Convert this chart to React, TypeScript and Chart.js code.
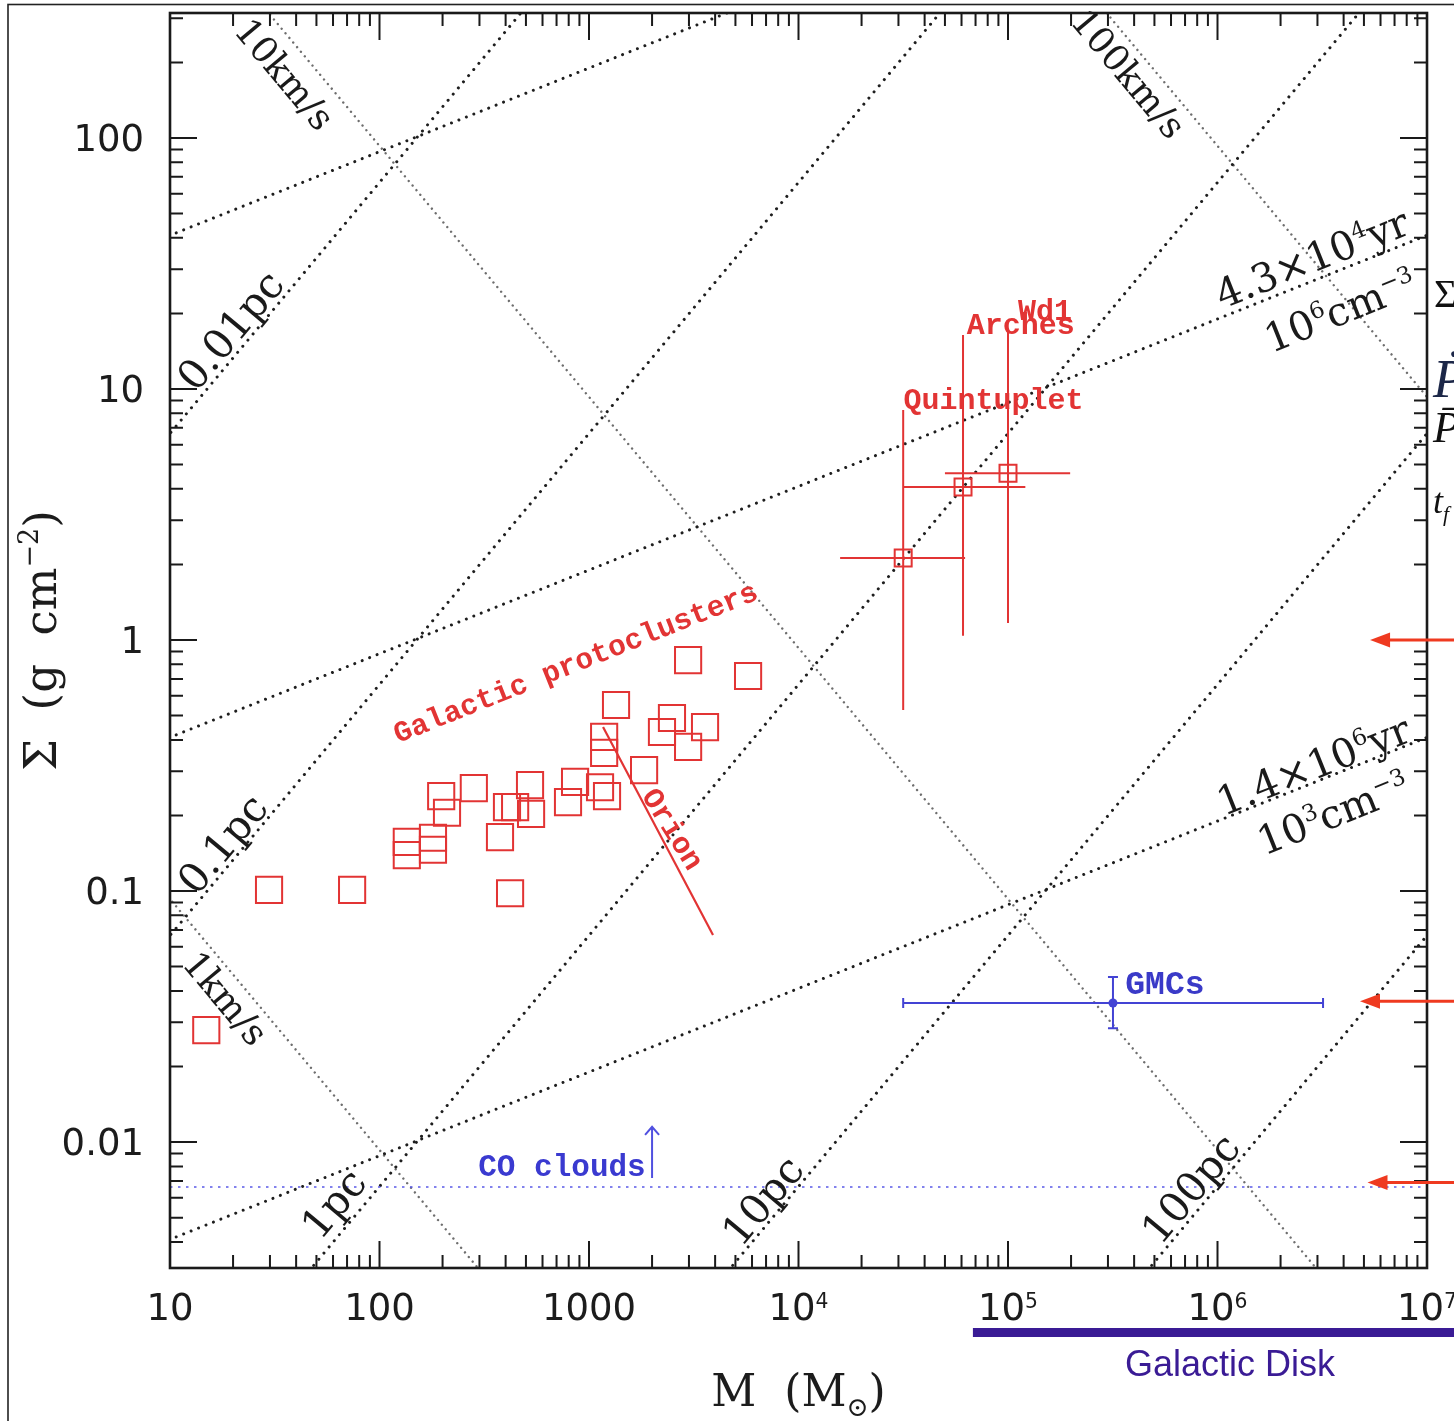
import React, { useEffect, useRef } from 'react';
import { Chart, registerables } from 'chart.js';

Chart.register(...registerables);

const CANVAS_W = 1454;
const CANVAS_H = 1421;

// ---------- axes ----------
const xRange = [10, 1e7];
const yRange = [0.00315, 314.6];
const xMajorTicks = [10, 100, 1000, 1e4, 1e5, 1e6, 1e7];
const xTickLabels = ['10', '100', '1000', '10^{4}', '10^{5}', '10^{6}', '10^{7}'];
const yMajorTicks = [0.01, 0.1, 1, 10, 100];
const yTickLabels = ['0.01', '0.1', '1', '10', '100'];
const xTitle = 'M  (M_{⊙})';
const yTitle = 'Σ  (g  cm^{−2})';

// ---------- Galactic protoclusters ----------
const protoMass = [14.9, 29.7, 74, 135, 135, 180, 180, 197, 210, 282, 376, 406, 444, 529, 523, 420, 794, 858, 1129, 1219, 1181, 1181, 1346, 1832, 2230, 2489, 3580, 2972, 2972, 5745];
const protoSigma = [0.0279, 0.101, 0.101, 0.157, 0.139, 0.163, 0.146, 0.239, 0.205, 0.257, 0.164, 0.216, 0.216, 0.203, 0.264, 0.098, 0.226, 0.272, 0.259, 0.239, 0.411, 0.355, 0.551, 0.303, 0.43, 0.489, 0.45, 0.375, 0.832, 0.719];

// ---------- massive clusters ----------
const clusterNames = ['Quintuplet', 'Arches', 'Wd1'];
const clusterMass = [3.16e4, 6.1e4, 1.0e5];
const clusterMassLo = [1.58e4, 3.16e4, 5.0e4];
const clusterMassHi = [6.24e4, 1.21e5, 1.98e5];
const clusterSigma = [2.12, 4.07, 4.62];
const clusterSigmaLo = [0.526, 1.04, 1.17];
const clusterSigmaHi = [8.24, 16.4, 17.2];
const clusterLabelMass = [8.53e4, 1.15e5, 1.5e5];
const clusterLabelSigma = [9.2, 18.2, 20.8];

// ---------- GMCs ----------
const gmcMass = [3.17e5];
const gmcMassLo = [3.16e4];
const gmcMassHi = [3.19e6];
const gmcSigma = [0.0358];
const gmcSigmaLo = [0.0284];
const gmcSigmaHi = [0.0454];

// ---------- CO clouds ----------
const coSigma = [0.00662];
const coArrowMass = [2000];
const coArrowSigma = [0.0072, 0.0115];

// ---------- Orion ----------
const orionMass = [1167, 3908];
const orionSigma = [0.45, 0.0668];

// ---------- reference lines ----------
const radiusLabels = ['0.01pc', '0.1pc', '1pc', '10pc', '100pc'];
const radiusLineMass = [[1, 1e4], [1, 1e5], [10, 1e7], [1e3, 1e8], [1e5, 1e8]];
const radiusLineSigma = [[0.665, 6650], [0.00665, 665], [6.65e-4, 665], [6.65e-4, 66.5], [6.65e-4, 0.665]];
const radiusLabelMass = [19.3, 17.7, 60, 6700, 7.4e5];
const radiusLabelSigma = [17.2, 0.155, 0.00571, 0.00587, 0.00656];

const velocityLabels = ['1km/s', '10km/s', '100km/s'];
const velocityLineMass = [[1, 1e4], [10, 1e7], [1e4, 1e8]];
const velocityLineSigma = [[0.93, 9.3e-5], [930, 9.3e-4], [9300, 0.93]];
const velocityLabelMass = [18.5, 35.4, 3.78e5];
const velocityLabelSigma = [0.0375, 180, 181];

const densityLineMass = [[1, 1e4], [1, 1e8], [1, 1e8]];
const densityLineSigma = [[19.0, 409], [0.19, 88.2], [0.0019, 0.882]];
const densityLabels = ['4.3×10^{4}yr', '10^{6}cm^{−3}', '1.4×10^{6}yr', '10^{3}cm^{−3}'];
const densityLabelMass = [2.82e6, 3.85e6, 2.86e6, 3.56e6];
const densityLabelSigma = [33.3, 20.6, 0.318, 0.205];

// ---------- other annotations ----------
const protoLabelMass = [857];
const protoLabelSigma = [0.824];
const orionLabelMass = [2545];
const orionLabelSigma = [0.178];
const gmcLabelMass = [5.61e5];
const gmcLabelSigma = [0.0434];
const coLabelMass = [743];
const coLabelSigma = [0.0081];
const rightArrowSigma = [1.0, 0.0364, 0.0069];
const rightArrowTipMass = [5.35e6, 4.79e6, 5.2e6];
const diskStartMass = [6.8e4];

const RED = '#e23434';
const BLUE = '#4343d4';

type RichOpts = {
  size: number;
  family: string;
  weight?: string;
  style?: string;
  color: string;
  align?: 'left' | 'center' | 'right';
  angle?: number;
  supScale?: number;
  supRise?: number;
};

function parseRich(s: string) {
  const out: { t: string; mode: number }[] = [];
  const re = /\^\{([^}]*)\}|_\{([^}]*)\}|([^^_]+)/g;
  let m: RegExpExecArray | null;
  while ((m = re.exec(s)) !== null) {
    if (m[1] !== undefined) out.push({ t: m[1], mode: 1 });
    else if (m[2] !== undefined) out.push({ t: m[2], mode: 2 });
    else out.push({ t: m[3], mode: 0 });
  }
  return out;
}

function drawRich(ctx: CanvasRenderingContext2D, s: string, x: number, y: number, o: RichOpts) {
  const segs = parseRich(s);
  const sc = o.supScale ?? 0.6;
  const rise = o.supRise ?? 0.4;
  const font = (mode: number) =>
    `${o.style || 'normal'} ${o.weight || 'normal'} ${mode ? o.size * sc : o.size}px ${o.family}`;
  const widths = segs.map((g) => {
    ctx.font = font(g.mode);
    return ctx.measureText(g.t).width;
  });
  const total = widths.reduce((a, b) => a + b, 0);
  ctx.save();
  ctx.translate(x, y);
  ctx.rotate(o.angle || 0);
  ctx.fillStyle = o.color;
  ctx.textBaseline = 'alphabetic';
  ctx.textAlign = 'left';
  let cx = o.align === 'left' ? 0 : o.align === 'right' ? -total : -total / 2;
  const base = o.size * 0.36;
  segs.forEach((g, i) => {
    ctx.font = font(g.mode);
    const dy = g.mode === 1 ? -o.size * rise : g.mode === 2 ? o.size * 0.22 : 0;
    ctx.fillText(g.t, cx, base + dy);
    cx += widths[i];
  });
  ctx.restore();
}

function pts(ms: number[], ss: number[]) {
  return ms.map((m, i) => ({ x: m, y: ss[i] }));
}

const overlayPlugin = {
  id: 'overlay',
  afterDatasetsDraw(chart: any) {
    const { ctx } = chart;
    const xs = chart.scales.x;
    const ys = chart.scales.y;
    ctx.save();
    // cluster error bars
    ctx.strokeStyle = RED;
    ctx.lineWidth = 2;
    ctx.beginPath();
    clusterMass.forEach((m, i) => {
      const px = xs.getPixelForValue(m);
      const py = ys.getPixelForValue(clusterSigma[i]);
      ctx.moveTo(xs.getPixelForValue(clusterMassLo[i]), py);
      ctx.lineTo(xs.getPixelForValue(clusterMassHi[i]), py);
      ctx.moveTo(px, ys.getPixelForValue(clusterSigmaLo[i]));
      ctx.lineTo(px, ys.getPixelForValue(clusterSigmaHi[i]));
    });
    ctx.stroke();
    // GMC error bars with caps
    ctx.strokeStyle = BLUE;
    ctx.lineWidth = 2;
    ctx.beginPath();
    gmcMass.forEach((m, i) => {
      const px = xs.getPixelForValue(m);
      const py = ys.getPixelForValue(gmcSigma[i]);
      const x1 = xs.getPixelForValue(gmcMassLo[i]);
      const x2 = xs.getPixelForValue(gmcMassHi[i]);
      const y1 = ys.getPixelForValue(gmcSigmaLo[i]);
      const y2 = ys.getPixelForValue(gmcSigmaHi[i]);
      ctx.moveTo(x1, py); ctx.lineTo(x2, py);
      ctx.moveTo(x1, py - 5); ctx.lineTo(x1, py + 5);
      ctx.moveTo(x2, py - 5); ctx.lineTo(x2, py + 5);
      ctx.moveTo(px, y1); ctx.lineTo(px, y2);
      ctx.moveTo(px - 5, y1); ctx.lineTo(px + 5, y1);
      ctx.moveTo(px - 5, y2); ctx.lineTo(px + 5, y2);
    });
    ctx.stroke();
    // CO clouds arrow
    ctx.strokeStyle = '#5050e0';
    ctx.lineWidth = 2;
    const ax = xs.getPixelForValue(coArrowMass[0]);
    const ay1 = ys.getPixelForValue(coArrowSigma[0]);
    const ay2 = ys.getPixelForValue(coArrowSigma[1]);
    ctx.beginPath();
    ctx.moveTo(ax, ay1); ctx.lineTo(ax, ay2);
    ctx.moveTo(ax - 7, ay2 + 8); ctx.lineTo(ax, ay2); ctx.lineTo(ax + 7, ay2 + 8);
    ctx.stroke();
    ctx.restore();
  },
  afterDraw(chart: any) {
    const { ctx, chartArea: a } = chart;
    const xs = chart.scales.x;
    const ys = chart.scales.y;
    const X = (v: number) => xs.getPixelForValue(v);
    const Y = (v: number) => ys.getPixelForValue(v);
    ctx.save();

    // outer slide frame
    ctx.strokeStyle = '#222';
    ctx.lineWidth = 1.6;
    ctx.strokeRect(8, 4.5, CANVAS_W + 20, CANVAS_H + 20);

    // ticks on all four sides
    ctx.strokeStyle = '#1a1a1a';
    ctx.lineWidth = 2;
    ctx.beginPath();
    for (let e = -4; e <= 8; e++) {
      for (let k = 1; k <= 9; k++) {
        const v = k * Math.pow(10, e);
        const len = k === 1 ? 27 : 13;
        if (v >= xRange[0] * 0.999 && v <= xRange[1] * 1.001) {
          const px = X(v);
          ctx.moveTo(px, a.bottom); ctx.lineTo(px, a.bottom - len);
          ctx.moveTo(px, a.top); ctx.lineTo(px, a.top + len);
        }
        if (v >= yRange[0] && v <= yRange[1]) {
          const py = Y(v);
          ctx.moveTo(a.left, py); ctx.lineTo(a.left + len, py);
          ctx.moveTo(a.right, py); ctx.lineTo(a.right - len, py);
        }
      }
    }
    ctx.stroke();
    ctx.lineWidth = 2.6;
    ctx.strokeRect(a.left, a.top, a.right - a.left, a.bottom - a.top);

    // tick labels
    const tickFont = { size: 37, family: '"DejaVu Sans", Verdana, sans-serif', color: '#1c1c1c', supScale: 0.55, supRise: 0.33 };
    xMajorTicks.forEach((v, i) => drawRich(ctx, xTickLabels[i], X(v), a.bottom + 39, { ...tickFont, align: 'center' }));
    yMajorTicks.forEach((v, i) => drawRich(ctx, yTickLabels[i], a.left - 26, Y(v), { ...tickFont, align: 'right' }));

    // axis titles
    const serif = '"DejaVu Serif", serif';
    drawRich(ctx, xTitle, (a.left + a.right) / 2, a.bottom + 122, { size: 44, family: serif, color: '#1c1c1c', supScale: 0.6 });
    drawRich(ctx, yTitle, 40, (a.top + a.bottom) / 2, { size: 45, family: serif, color: '#1c1c1c', angle: -Math.PI / 2, supScale: 0.6 });

    // angles of reference lines in pixel space
    const dxDec = X(100) - X(10);
    const dyDec = Y(1) - Y(10);
    const radiusAngle = -Math.atan2(dyDec, dxDec);
    const velocityAngle = Math.atan2(dyDec, dxDec);
    const densityAngle = -Math.atan2(dyDec / 3, dxDec);

    radiusLabels.forEach((t, i) =>
      drawRich(ctx, t, X(radiusLabelMass[i]), Y(radiusLabelSigma[i]), { size: 41, family: serif, color: '#1a1a1a', angle: radiusAngle }));
    velocityLabels.forEach((t, i) =>
      drawRich(ctx, t, X(velocityLabelMass[i]), Y(velocityLabelSigma[i]), { size: 36, family: serif, color: '#1a1a1a', angle: velocityAngle }));
    densityLabels.forEach((t, i) =>
      drawRich(ctx, t, X(densityLabelMass[i]), Y(densityLabelSigma[i]), { size: 40, family: serif, color: '#1a1a1a', angle: densityAngle, supScale: 0.58, supRise: 0.38 }));

    // red annotations
    const mono = '"Liberation Mono", "DejaVu Sans Mono", monospace';
    drawRich(ctx, 'Galactic protoclusters', X(protoLabelMass[0]), Y(protoLabelSigma[0]), { size: 29.5, family: mono, weight: 'bold', color: RED, angle: densityAngle });
    const orionAngle = Math.atan2(Y(orionSigma[1]) - Y(orionSigma[0]), X(orionMass[1]) - X(orionMass[0])) - 0.07;
    drawRich(ctx, 'Orion', X(orionLabelMass[0]), Y(orionLabelSigma[0]), { size: 30, family: mono, weight: 'bold', color: RED, angle: orionAngle });
    clusterNames.forEach((t, i) =>
      drawRich(ctx, t, X(clusterLabelMass[i]), Y(clusterLabelSigma[i]), { size: 30, family: mono, weight: 'bold', color: RED }));

    // blue annotations
    drawRich(ctx, 'GMCs', X(gmcLabelMass[0]), Y(gmcLabelSigma[0]), { size: 33, family: mono, weight: 'bold', color: '#3a3ac8' });
    drawRich(ctx, 'CO clouds', X(coLabelMass[0]), Y(coLabelSigma[0]), { size: 31, family: mono, weight: 'bold', color: '#3a3ad0' });

    // right-hand red arrows
    ctx.strokeStyle = '#ef3a20';
    ctx.fillStyle = '#ef3a20';
    ctx.lineWidth = 3;
    rightArrowSigma.forEach((s, i) => {
      const tipX = X(rightArrowTipMass[i]);
      const py = Y(s);
      ctx.beginPath();
      ctx.moveTo(tipX + 14, py);
      ctx.lineTo(CANVAS_W + 5, py);
      ctx.stroke();
      ctx.beginPath();
      ctx.moveTo(tipX, py);
      ctx.lineTo(tipX + 20, py - 7.5);
      ctx.lineTo(tipX + 20, py + 7.5);
      ctx.closePath();
      ctx.fill();
    });

    // galactic disk bar
    const diskX = X(diskStartMass[0]);
    ctx.fillStyle = '#3a1b95';
    ctx.fillRect(diskX, a.bottom + 60, CANVAS_W - diskX + 5, 9);
    drawRich(ctx, 'Galactic Disk', 1230, a.bottom + 95, { size: 36, family: '"Liberation Sans", Arial, sans-serif', color: '#3a1b95' });

    // clipped slide text at the right edge
    const tserif = '"Liberation Serif", "DejaVu Serif", serif';
    drawRich(ctx, 'Σ', a.right + 7, 293, { size: 40, family: tserif, color: '#111', align: 'left' });
    drawRich(ctx, 'Ṗ', a.right + 6, 378, { size: 54, family: tserif, style: 'italic', color: '#1c2748', align: 'left' });
    drawRich(ctx, 'P̄', a.right + 6, 426, { size: 44, family: tserif, style: 'italic', color: '#111', align: 'left' });
    drawRich(ctx, 't_{f}', a.right + 6, 500, { size: 36, family: tserif, style: 'italic', color: '#111', align: 'left' });

    ctx.restore();
  },
};

export default function App() {
  const canvasRef = useRef<HTMLCanvasElement | null>(null);

  useEffect(() => {
    if (!canvasRef.current) return;
    const datasets: any[] = [];

    velocityLineMass.forEach((ms, i) =>
      datasets.push({
        label: velocityLabels[i], data: pts(ms, velocityLineSigma[i]), showLine: true, pointRadius: 0,
        borderColor: '#6e6e6e', borderWidth: 2.4, borderDash: [0.01, 6], borderCapStyle: 'round', order: 10,
      }));
    radiusLineMass.forEach((ms, i) =>
      datasets.push({
        label: radiusLabels[i], data: pts(ms, radiusLineSigma[i]), showLine: true, pointRadius: 0,
        borderColor: '#1e1e1e', borderWidth: 3, borderDash: [0.01, 8], borderCapStyle: 'round', order: 9,
      }));
    densityLineMass.forEach((ms, i) =>
      datasets.push({
        label: 'density ' + i, data: pts(ms, densityLineSigma[i]), showLine: true, pointRadius: 0,
        borderColor: '#1e1e1e', borderWidth: 3, borderDash: [0.01, 8], borderCapStyle: 'round', order: 9,
      }));
    datasets.push({
      label: 'CO clouds', data: pts(xRange, [coSigma[0], coSigma[0]]), showLine: true, pointRadius: 0,
      borderColor: '#5a5ae8', borderWidth: 1.6, borderDash: [2.5, 5.5], order: 8,
    });
    datasets.push({
      label: 'Orion', data: pts(orionMass, orionSigma), showLine: true, pointRadius: 0,
      borderColor: RED, borderWidth: 2.2, order: 7,
    });
    datasets.push({
      label: 'Galactic protoclusters', data: pts(protoMass, protoSigma), showLine: false,
      pointStyle: 'rect', pointRadius: 18.5, pointHoverRadius: 18.5, pointBorderWidth: 2,
      pointBorderColor: RED, pointBackgroundColor: 'rgba(0,0,0,0)', order: 2,
    });
    datasets.push({
      label: 'Massive clusters', data: pts(clusterMass, clusterSigma), showLine: false,
      pointStyle: 'rect', pointRadius: 12, pointHoverRadius: 12, pointBorderWidth: 2,
      pointBorderColor: RED, pointBackgroundColor: 'rgba(0,0,0,0)', order: 2,
    });
    datasets.push({
      label: 'GMCs', data: pts(gmcMass, gmcSigma), showLine: false,
      pointStyle: 'circle', pointRadius: 4.5, pointHoverRadius: 4.5, pointBorderWidth: 0,
      pointBackgroundColor: BLUE, pointBorderColor: BLUE, order: 1,
    });

    const chart = new Chart(canvasRef.current, {
      type: 'scatter',
      data: { datasets },
      options: {
        animation: false,
        responsive: false,
        devicePixelRatio: 1,
        events: [],
        layout: { autoPadding: false, padding: { left: 170, right: 27, top: 13, bottom: 153 } },
        plugins: { legend: { display: false }, tooltip: { enabled: false } },
        scales: {
          x: { type: 'logarithmic', min: xRange[0], max: xRange[1], display: false },
          y: { type: 'logarithmic', min: yRange[0], max: yRange[1], display: false },
        },
      } as any,
      plugins: [overlayPlugin],
    });
    return () => chart.destroy();
  }, []);

  return (
    <div style={{ position: 'absolute', left: 0, top: 0, width: CANVAS_W, height: CANVAS_H, background: '#fff' }}>
      <canvas ref={canvasRef} width={CANVAS_W} height={CANVAS_H} style={{ display: 'block' }} />
    </div>
  );
}
